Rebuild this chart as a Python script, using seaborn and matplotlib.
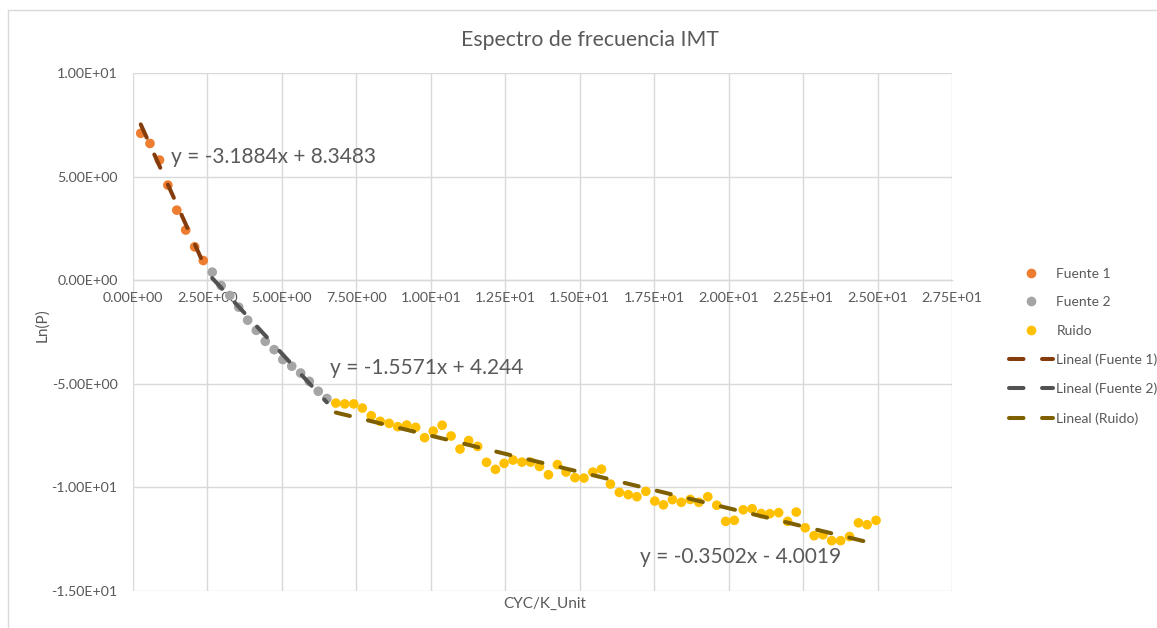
import numpy as np
import pandas as pd
import matplotlib
matplotlib.use("Agg")
import matplotlib.pyplot as plt
from matplotlib.lines import Line2D
from matplotlib.ticker import FuncFormatter, MultipleLocator
import seaborn as sns

# ---------------- data ----------------
f1_x = [0.26, 0.57, 0.89, 1.17, 1.47, 1.77, 2.07, 2.36]
f1_y = [7.09, 6.60, 5.80, 4.59, 3.38, 2.42, 1.61, 0.95]

f2_x = [2.66, 2.96, 3.25, 3.55, 3.85, 4.14, 4.44, 4.74, 5.03, 5.33, 5.63, 5.92, 6.22, 6.51]
f2_y = [0.39, -0.26, -0.74, -1.30, -1.93, -2.42, -2.95, -3.35, -3.83, -4.15, -4.48, -4.88, -5.36, -5.71]

ru_x = [6.81, 7.11, 7.41, 7.70, 8.00, 8.30, 8.60, 8.89, 9.19, 9.49, 9.79, 10.08,
        10.38, 10.68, 10.98, 11.27, 11.57, 11.87, 12.17, 12.46, 12.76, 13.06, 13.35,
        13.65, 13.95, 14.25, 14.54, 14.84, 15.14, 15.44, 15.73, 16.03, 16.33, 16.63,
        16.92, 17.22, 17.52, 17.81, 18.11, 18.41, 18.71, 19.00, 19.30, 19.60, 19.90,
        20.19, 20.49, 20.79, 21.09, 21.38, 21.68, 21.98, 22.27, 22.57, 22.87, 23.17,
        23.46, 23.76, 24.06, 24.36, 24.65, 24.95]
ru_y = [-5.93, -5.97, -5.97, -6.17, -6.54, -6.81, -6.91, -7.07, -6.99, -7.10, -7.60, -7.28,
        -7.00, -7.52, -8.15, -7.74, -8.02, -8.79, -9.13, -8.84, -8.68, -8.78, -8.78,
        -8.99, -9.39, -8.90, -9.26, -9.53, -9.55, -9.26, -9.12, -9.84, -10.24, -10.35,
        -10.45, -10.19, -10.66, -10.84, -10.59, -10.72, -10.58, -10.72, -10.45, -10.86, -11.64,
        -11.59, -11.08, -11.03, -11.26, -11.27, -11.22, -11.64, -11.19, -11.95, -12.33, -12.29,
        -12.57, -12.57, -12.37, -11.71, -11.80, -11.59]

series_names = ["Fuente 1", "Fuente 2", "Ruido"]
trend_slopes = [-3.1884, -1.5571, -0.3502]
trend_intercepts = [8.3483, 4.244, -4.0019]
trend_labels = ["y = -3.1884x + 8.3483", "y = -1.5571x + 4.244", "y = -0.3502x - 4.0019"]

# ---------------- style ----------------
sns.set_theme(style="white")
plt.rcParams["font.family"] = ["Lato", "DejaVu Sans"]

marker_colors = ["#ED7D31", "#A5A5A5", "#FFC000"]
line_colors = ["#843C0C", "#525252", "#7F6000"]
text_gray = "#595959"
grid_gray = "#D9D9D9"

fig = plt.figure(figsize=(11.57, 6.28), dpi=100)
ax = fig.add_axes([133/1157, 1-591/628, (952-133)/1157, (591-73)/628])

df = pd.concat([
    pd.DataFrame({"x": f1_x, "y": f1_y, "serie": series_names[0]}),
    pd.DataFrame({"x": f2_x, "y": f2_y, "serie": series_names[1]}),
    pd.DataFrame({"x": ru_x, "y": ru_y, "serie": series_names[2]}),
], ignore_index=True)

sns.scatterplot(data=df, x="x", y="y", hue="serie", hue_order=series_names,
                palette=marker_colors, s=48, linewidth=0, ax=ax, legend=False, zorder=3)

# trend lines
xs_groups = [f1_x, f2_x, ru_x]
lw = 2.9
for i, xs in enumerate(xs_groups):
    xr = np.array([min(xs), max(xs)])
    yr = trend_slopes[i] * xr + trend_intercepts[i]
    ln = ax.plot(xr, yr, color=line_colors[i], lw=lw, zorder=4,
                 solid_capstyle="round", dash_capstyle="round")[0]
    ln.set_dashes((3.6, 4.6))

# equation labels
eq_pos = [(1.28, 5.94), (6.61, -4.25), (17.01, -13.38)]
for (tx, ty), lab in zip(eq_pos, trend_labels):
    ax.text(tx, ty, lab, fontsize=15, color=text_gray, ha="left", va="center", zorder=5)

# axes
ax.set_xlim(0, 27.5)
ax.set_ylim(-15, 10)
ax.xaxis.set_major_locator(MultipleLocator(2.5))
ax.yaxis.set_major_locator(MultipleLocator(5))
fmt = FuncFormatter(lambda v, p: format(v, ".2E"))
ax.xaxis.set_major_formatter(fmt)
ax.yaxis.set_major_formatter(fmt)
ax.grid(True, color=grid_gray, lw=1.0, zorder=0)
ax.set_axisbelow(True)
for s in ["top", "right", "left"]:
    ax.spines[s].set_visible(False)
ax.spines["bottom"].set_position(("data", 0))
ax.spines["bottom"].set_color(grid_gray)
ax.spines["bottom"].set_linewidth(1.0)
ax.tick_params(axis="x", length=0, pad=8.5, labelsize=10.3, labelcolor=text_gray)
ax.tick_params(axis="y", length=0, pad=11, labelsize=10.3, labelcolor=text_gray)

ax.set_xlabel("CYC/K_Unit", fontsize=11, color=text_gray)
ax.xaxis.set_label_coords(0.503, -0.012)
ax.set_ylabel("Ln(P)", fontsize=11, color=text_gray)
ax.yaxis.set_label_coords(-0.102, 0.513)

fig.text(590/1157, 1-40/628, "Espectro de frecuencia IMT", fontsize=15.3, color=text_gray,
         ha="center", va="center")

# legend
handles = [Line2D([], [], ls="none", marker="o", markersize=7, markeredgewidth=0,
                  color=c) for c in marker_colors]
for c in line_colors:
    h = Line2D([], [], color=c, lw=lw, dash_capstyle="round", solid_capstyle="round")
    h.set_dashes((3.6, 4.6))
    handles.append(h)
labels = series_names + ["Lineal (%s)" % n for n in series_names]
leg = fig.legend(handles, labels, loc="upper left", bbox_to_anchor=(1003/1157, 1-262/628),
                 frameon=False, fontsize=10, labelcolor=text_gray, handlelength=3.2,
                 handletextpad=0.25, labelspacing=1.2, borderaxespad=0)

# chart area border (Excel style)
fig.add_artist(Line2D([8/1157, 1], [1-10/628, 1-10/628], color=grid_gray, lw=1.0,
                      transform=fig.transFigure))
fig.add_artist(Line2D([8/1157, 8/1157], [0, 1-10/628], color=grid_gray, lw=1.0,
                      transform=fig.transFigure))

fig.savefig("out.png", dpi=100)
